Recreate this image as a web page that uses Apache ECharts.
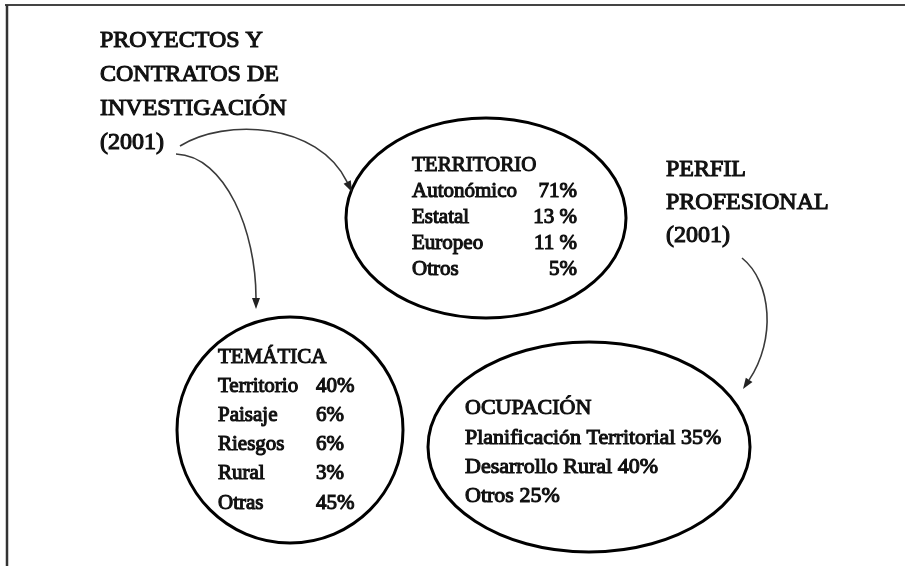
<!DOCTYPE html>
<html>
<head>
<meta charset="utf-8">
<script src="https://cdn.jsdelivr.net/npm/echarts@6/dist/echarts.min.js"></script>
<style>
  html, body { margin: 0; padding: 0; background: #fff; }
  #chart { width: 905px; height: 566px; }
</style>
</head>
<body>
<div id="chart"></div>
<script>
// texts of the diagram
const titleLeft = ['PROYECTOS Y', 'CONTRATOS DE', 'INVESTIGACIÓN', '(2001)'];
const titleRight = ['PERFIL', 'PROFESIONAL', '(2001)'];

const territorioTitle = 'TERRITORIO';
const territorioLabels = ['Autonómico', 'Estatal', 'Europeo', 'Otros'];
const territorioValues = ['71%', '13 %', '11 %', '5%'];

const tematicaTitle = 'TEMÁTICA';
const tematicaLabels = ['Territorio', 'Paisaje', 'Riesgos', 'Rural', 'Otras'];
const tematicaValues = ['40%', '6%', '6%', '3%', '45%'];

const ocupacionTitle = 'OCUPACIÓN';
const ocupacionLabels = ['Planificación Territorial', 'Desarrollo Rural', 'Otros'];
const ocupacionValues = ['35%', '40%', '25%'];

const FONT = '"Liberation Serif", "DejaVu Serif", serif';
const INK = '#111';

let chart = echarts.init(document.getElementById('chart'), null, { renderer: 'canvas' });

// one text line, y is the baseline
function txt(text, x, baseline, size, align) {
  return {
    type: 'text',
    style: {
      text: text,
      x: x,
      y: baseline - size * 0.32,
      font: size + 'px ' + FONT,
      fill: INK,
      stroke: INK,
      lineWidth: 1.1,
      align: align || 'left',
      verticalAlign: 'middle'
    }
  };
}

// curved arrow: cubic bezier + small head along the last tangent
function arrow(p1, c1, c2, p2) {
  var dx = p2[0] - c2[0];
  var dy = p2[1] - c2[1];
  var len = Math.sqrt(dx * dx + dy * dy);
  dx /= len;
  dy /= len;
  var L = 11, W = 4;
  var bx = p2[0] - dx * L, by = p2[1] - dy * L;
  return [
    {
      type: 'bezierCurve',
      shape: { x1: p1[0], y1: p1[1], cpx1: c1[0], cpy1: c1[1], cpx2: c2[0], cpy2: c2[1], x2: bx, y2: by },
      style: { stroke: '#3a3a3a', lineWidth: 1.6, fill: null }
    },
    {
      type: 'polygon',
      shape: { points: [p2, [bx - dy * W, by + dx * W], [bx + dy * W, by - dx * W]] },
      style: { fill: '#222' }
    }
  ];
}

function ellipse(cx, cy, rx, ry) {
  return {
    type: 'ellipse',
    shape: { cx: cx, cy: cy, rx: rx, ry: ry },
    style: { fill: null, stroke: '#000', lineWidth: 3 }
  };
}

var elements = [];

// frame (top and left only)
elements.push({ type: 'line', shape: { x1: 5, y1: 5, x2: 905, y2: 5 }, style: { stroke: '#444', lineWidth: 2 } });
elements.push({ type: 'line', shape: { x1: 7, y1: 5, x2: 7, y2: 566 }, style: { stroke: '#333', lineWidth: 2.5 } });

// headings
titleLeft.forEach(function(t, i) {
  elements.push(txt(t, 100, 48 + i * 34, 24));
});
titleRight.forEach(function(t, i) {
  elements.push(txt(t, 666, 177 + i * 33, 24));
});

// TERRITORIO
elements.push(ellipse(486, 218, 140, 100));
elements.push(txt(territorioTitle, 412, 172, 21));
territorioLabels.forEach(function(t, i) {
  elements.push(txt(t, 412, 198 + i * 26, 21));
  elements.push(txt(territorioValues[i], 577, 198 + i * 26, 21, 'right'));
});

// TEMÁTICA
elements.push(ellipse(290, 430, 113, 113));
elements.push(txt(tematicaTitle, 218, 364, 21));
tematicaLabels.forEach(function(t, i) {
  elements.push(txt(t, 218, 393 + i * 29.2, 21));
  elements.push(txt(tematicaValues[i], 316, 393 + i * 29.2, 21));
});

// OCUPACIÓN
elements.push(ellipse(589, 447, 161, 105));
elements.push(txt(ocupacionTitle, 465, 415, 22));
ocupacionLabels.forEach(function(t, i) {
  elements.push(txt(t + ' ' + ocupacionValues[i], 465, 445 + i * 29, 22));
});

// arrows
elements = elements.concat(arrow([180, 146], [225, 118], [318, 122], [352, 192]));
elements = elements.concat(arrow([176, 154], [226, 156], [256, 232], [256, 309]));
elements = elements.concat(arrow([742, 258], [772, 282], [776, 340], [743, 389]));

chart.setOption({
  backgroundColor: '#fff',
  animation: false,
  graphic: { elements: elements }
});
</script>
</body>
</html>
